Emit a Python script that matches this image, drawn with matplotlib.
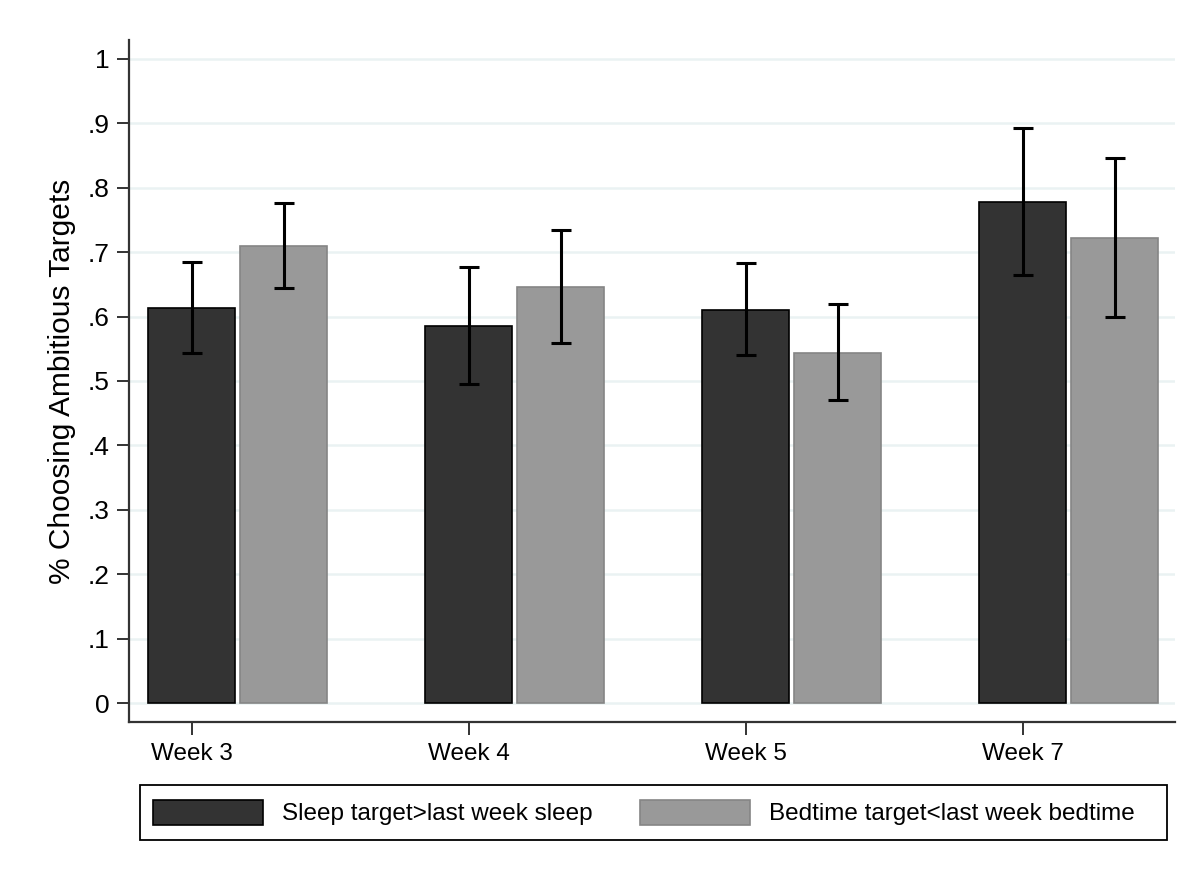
import numpy as np
import matplotlib.pyplot as plt
from matplotlib.patches import Patch, Rectangle

weeks = ["Week 3", "Week 4", "Week 5", "Week 7"]

sleep_mean = [0.613, 0.585, 0.610, 0.777]
sleep_lo = [0.543, 0.496, 0.540, 0.664]
sleep_hi = [0.684, 0.677, 0.683, 0.893]

bed_mean = [0.709, 0.646, 0.543, 0.722]
bed_lo = [0.644, 0.559, 0.471, 0.599]
bed_hi = [0.776, 0.735, 0.619, 0.846]

labels = ["Sleep target>last week sleep", "Bedtime target<last week bedtime"]

plt.rcParams['font.family'] = ['Liberation Sans', 'DejaVu Sans']
plt.rcParams['font.size'] = 17.5

W, H = 1203, 871
fig = plt.figure(figsize=(W / 100, H / 100), dpi=100)
ax = fig.add_axes([129 / W, 1 - 722 / H, 1046 / W, 682 / H])

x = np.arange(len(weeks))
w = 0.314
off = 0.332
dark = "#333333"
light = "#999999"

ax.bar(x, sleep_mean, w, color=dark, edgecolor="black", linewidth=1.2, zorder=2)
ax.bar(x + off, bed_mean, w, color=light, edgecolor="#858585", linewidth=1.2, zorder=2)

sm = np.array(sleep_mean)
bm = np.array(bed_mean)
ax.errorbar(x, sm, yerr=[sm - np.array(sleep_lo), np.array(sleep_hi) - sm],
            fmt="none", ecolor="black", elinewidth=2.2, capsize=7.5, capthick=2.2, zorder=3)
ax.errorbar(x + off, bm, yerr=[bm - np.array(bed_lo), np.array(bed_hi) - bm],
            fmt="none", ecolor="black", elinewidth=2.2, capsize=7.5, capthick=2.2, zorder=3)

ax.set_xlim(-0.226, 3.55)
ax.set_ylim(-0.029, 1.029)
ax.set_xticks(x)
ax.set_xticklabels(weeks)
yt = np.arange(0, 1.01, 0.1)
ax.set_yticks(yt)
ax.set_yticklabels(["0"] + [("%.1f" % v)[1:] for v in yt[1:-1]] + ["1"], fontsize=19)
ax.yaxis.grid(True, color="#eaf2f3", linewidth=1.8, zorder=0)
ax.set_axisbelow(True)

for s in ["top", "right"]:
    ax.spines[s].set_visible(False)
for s in ["left", "bottom"]:
    ax.spines[s].set_color("#333333")
    ax.spines[s].set_linewidth(1.6)
ax.tick_params(axis="both", length=9, width=1.4, color="#333333", pad=5)
ax.tick_params(axis="x", pad=6)

ax.set_ylabel("% Choosing Ambitious Targets", fontsize=21.5)
ax.yaxis.set_label_coords(-0.0507, 0.5)

# legend box drawn separately so the padding can be uneven
fig.patches.append(Rectangle((140 / W, 1 - 840 / H), 1027 / W, 55 / H,
                             transform=fig.transFigure, facecolor="none",
                             edgecolor="black", linewidth=1.3))
handles = [Patch(facecolor=dark, edgecolor="black", linewidth=1.2),
           Patch(facecolor=light, edgecolor="#858585", linewidth=1.2)]
fig.legend(handles, labels, loc="center left", ncol=2,
           bbox_to_anchor=(153 / W, 1 - 812.5 / H),
           handlelength=4.53, handleheight=1.23, handletextpad=0.78,
           columnspacing=1.93, borderaxespad=0, borderpad=0, frameon=False)

fig.savefig("out.png", dpi=100, facecolor="white")
